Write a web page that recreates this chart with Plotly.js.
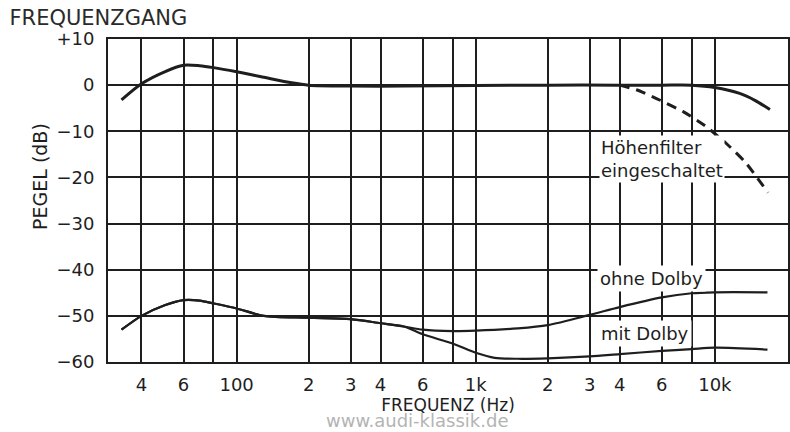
<!DOCTYPE html>
<html>
<head>
<meta charset="utf-8">
<script src="https://cdn.plot.ly/plotly-3.0.1.min.js"></script>
<style>html,body{margin:0;padding:0;background:#fff;}#chart{width:790px;height:432px;}</style>
</head>
<body>
<div id="chart"></div>
<script>
// Frequency response (solid)
const respFreq = [33, 40, 50, 60, 70, 80, 100, 130, 170, 200, 300, 500, 1000, 2000, 4000, 6000, 8000, 10000, 12700, 14700, 17000];
const respDb   = [-3.2, 0.3, 2.9, 4.3, 4.2, 3.8, 2.9, 1.7, 0.5, 0, -0.2, -0.2, -0.1, 0, 0, 0, 0, -0.5, -1.8, -3.3, -5.3];

// High-cut filter engaged (dashed)
const filterFreq = [4000, 4700, 5700, 7400, 9100, 11200, 13400, 16700];
const filterDb   = [0, -1.0, -2.9, -5.8, -8.8, -12.7, -16.7, -23.3];

// Noise without Dolby
const ohneFreq = [33, 40, 50, 60, 70, 80, 100, 130, 200, 300, 400, 500, 600, 800, 1000, 1500, 2000, 3000, 4000, 6000, 8000, 10000, 16600];
const ohneDb   = [-53, -50, -47.7, -46.6, -46.7, -47.3, -48.4, -50, -50.4, -50.7, -51.6, -52.3, -53, -53.3, -53.2, -52.7, -52, -49.8, -48.1, -46, -45.1, -44.9, -44.9];

// Noise with Dolby
const mitFreq = [33, 40, 50, 60, 70, 80, 100, 130, 200, 300, 400, 500, 600, 800, 1000, 1200, 1500, 2000, 3000, 4000, 6000, 8000, 10000, 16600];
const mitDb   = [-53, -50, -47.7, -46.6, -46.7, -47.3, -48.4, -50, -50.4, -50.7, -51.6, -52.3, -54, -56, -58, -59.1, -59.3, -59.2, -58.8, -58.3, -57.6, -57.2, -56.9, -57.3];

// Axis ticks
const xTickVals = [40, 60, 80, 100, 200, 300, 400, 600, 800, 1000, 2000, 3000, 4000, 6000, 8000, 10000];
const xTickText = ['4', '6', '', '100', '2', '3', '4', '6', '', '1k', '2', '3', '4', '6', '', '10k'];
const yTickVals = [10, 0, -10, -20, -30, -40, -50, -60];
const yTickText = ['+10', '0', '\u221210', '\u221220', '\u221230', '\u221240', '\u221250', '\u221260'];

const ink = '#1e1e1e';
const FONT = 'DejaVu Sans';

const traces = [
  {x: ohneFreq, y: ohneDb, type: 'scatter', mode: 'lines', name: 'ohne Dolby',
   line: {color: ink, width: 2.2, shape: 'spline', smoothing: 0.8}},
  {x: mitFreq, y: mitDb, type: 'scatter', mode: 'lines', name: 'mit Dolby',
   line: {color: ink, width: 2.2, shape: 'spline', smoothing: 0.8}},
  {x: filterFreq, y: filterDb, type: 'scatter', mode: 'lines', name: 'Höhenfilter eingeschaltet',
   line: {color: ink, width: 3, dash: '10px,7px', shape: 'spline', smoothing: 0.6}},
  {x: respFreq, y: respDb, type: 'scatter', mode: 'lines', name: 'Frequenzgang',
   line: {color: ink, width: 3, shape: 'spline', smoothing: 0.8}}
];

const layout = {
  width: 790, height: 432,
  margin: {l: 108, r: 2, t: 39, b: 70},
  paper_bgcolor: '#fff', plot_bgcolor: '#fff',
  showlegend: false,
  font: {family: FONT, color: ink, size: 18},
  title: {text: 'FREQUENZGANG', x: 0.012, xanchor: 'left', xref: 'container',
          y: 0.96, yanchor: 'middle', yref: 'container',
          font: {family: FONT, size: 21, color: '#2a2a2a'}},
  xaxis: {
    type: 'log', range: [1.462, 4.306],
    tickmode: 'array', tickvals: xTickVals, ticktext: xTickText,
    showgrid: true, gridcolor: ink, gridwidth: 2,
    showline: true, linecolor: ink, linewidth: 2, mirror: true,
    ticks: '', ticklabelstandoff: 5, zeroline: false,
    tickfont: {family: FONT, size: 18, color: ink},
    title: {text: 'FREQUENZ (Hz)', standoff: 0, font: {family: FONT, size: 17, color: ink}}
  },
  yaxis: {
    range: [-60, 10],
    tickmode: 'array', tickvals: yTickVals, ticktext: yTickText,
    showgrid: true, gridcolor: ink, gridwidth: 2,
    showline: true, linecolor: ink, linewidth: 2, mirror: true,
    ticks: '', ticklabelstandoff: 8, zeroline: false,
    tickfont: {family: FONT, size: 18, color: ink}
  },
  annotations: [
    {text: 'PEGEL (dB)', textangle: -90, xref: 'paper', yref: 'paper', x: -0.1, y: 0.573,
     xanchor: 'center', yanchor: 'middle', showarrow: false, font: {family: FONT, size: 19, color: ink}},
    {text: 'Höhenfilter<br>eingeschaltet', xref: 'paper', yref: 'paper', x: 0.7225, y: 0.6285,
     xanchor: 'left', yanchor: 'middle', align: 'left', showarrow: false, bgcolor: '#fff', borderpad: 1,
     font: {family: FONT, size: 18, color: ink}},
    {text: 'ohne Dolby', xref: 'paper', yref: 'paper', x: 0.719, y: 0.26,
     xanchor: 'left', yanchor: 'middle', showarrow: false, bgcolor: '#fff', borderpad: 2,
     font: {family: FONT, size: 18, color: ink}},
    {text: 'mit Dolby', xref: 'paper', yref: 'paper', x: 0.7206, y: 0.0867,
     xanchor: 'left', yanchor: 'middle', showarrow: false, bgcolor: '#fff', borderpad: 2,
     font: {family: FONT, size: 18, color: ink}},
    {text: 'www.audi-klassik.de', xref: 'paper', yref: 'paper', x: 0.4544, y: -0.2167,
     xanchor: 'center', yanchor: 'bottom', showarrow: false, borderpad: 0,
     font: {family: FONT, size: 18, color: '#b4b4b4'}}
  ]
};

Plotly.newPlot('chart', traces, layout, {displayModeBar: false, staticPlot: true});
</script>
</body>
</html>
